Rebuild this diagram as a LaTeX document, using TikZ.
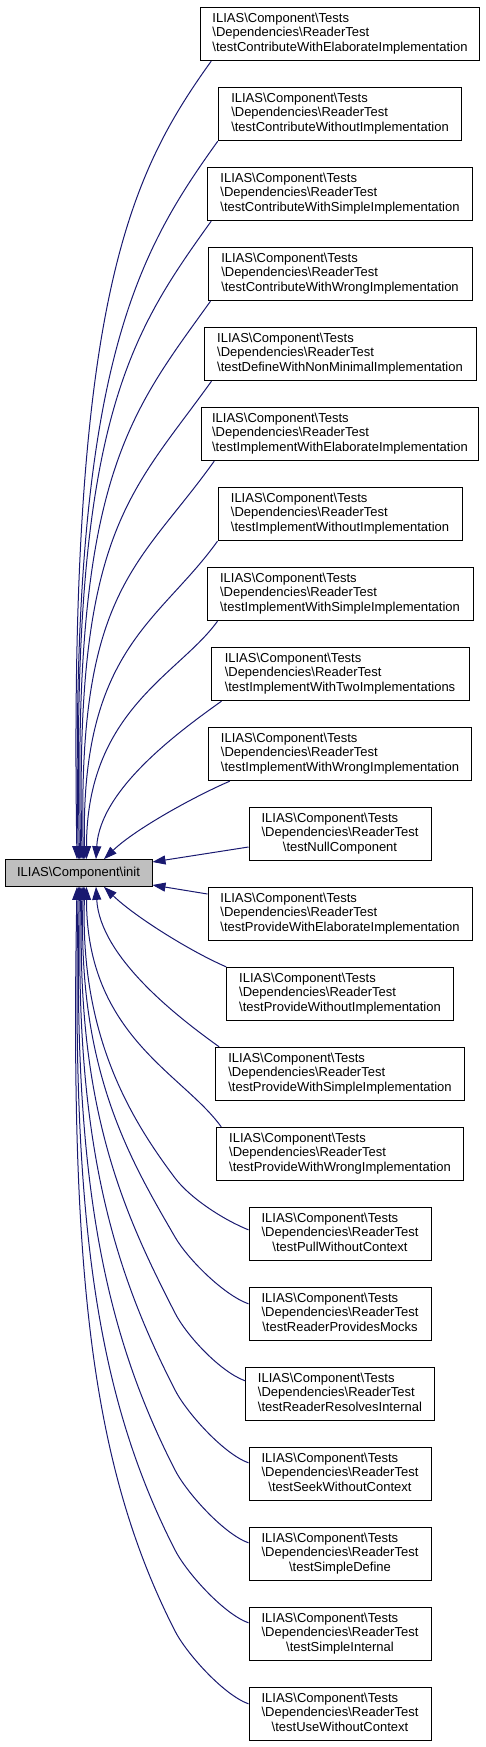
\documentclass[tikz,border=0pt]{standalone}
\usepackage{fontspec}
\setmainfont{Liberation Sans}
\usetikzlibrary{arrows.meta,calc}
\definecolor{edgec}{HTML}{191970}
\definecolor{rootfill}{HTML}{BFBFBF}
\newcommand{\tlbl}[1]{\begin{tabular}{@{}l@{}}ILIAS\textbackslash Component\textbackslash Tests\\ \textbackslash Dependencies\textbackslash ReaderTest\\ \multicolumn{1}{@{}c@{}}{\textbackslash #1}\end{tabular}}
\begin{document}
\begin{tikzpicture}[x=0.75pt,y=-0.75pt,
  box/.style={draw=black, line width=0.75pt, fill=white, minimum height=40pt,
    inner xsep=1pt, inner ysep=0pt, font=\fontsize{9.75}{11}\selectfont, minimum width=#1*0.75pt},
  rootbox/.style={draw=black, line width=0.75pt, fill=rootfill, minimum height=20pt,
    minimum width=110.25pt, inner sep=0pt, font=\fontsize{9.75}{11}\selectfont},
  conn/.style={draw=edgec, line width=0.75pt, -{Triangle[length=9.75pt,width=6.75pt]}}]
\useasboundingbox (0,0) rectangle (485,1747);
\node[rootbox] (root) at (78.5,873) {ILIAS\textbackslash Component\textbackslash init};
\node[box=278.6] (n0)  at (340,34)   {\tlbl{testContributeWithElaborateImplementation}};
\node[box=243.4] (n1)  at (340,114)  {\tlbl{testContributeWithoutImplementation}};
\node[box=264.6] (n2)  at (340,194)  {\tlbl{testContributeWithSimpleImplementation}};
\node[box=264]   (n3)  at (340,274)  {\tlbl{testContributeWithWrongImplementation}};
\node[box=272]   (n4)  at (340,354)  {\tlbl{testDefineWithNonMinimalImplementation}};
\node[box=276.6] (n5)  at (340,434)  {\tlbl{testImplementWithElaborateImplementation}};
\node[box=244]   (n6)  at (340,514)  {\tlbl{testImplementWithoutImplementation}};
\node[box=266]   (n7)  at (340,594)  {\tlbl{testImplementWithSimpleImplementation}};
\node[box=258]   (n8)  at (340,674)  {\tlbl{testImplementWithTwoImplementations}};
\node[box=263.4] (n9)  at (340,754)  {\tlbl{testImplementWithWrongImplementation}};
\node[box=182]   (n10) at (340,834)  {\tlbl{testNullComponent}};
\node[box=264]   (n11) at (340,914)  {\tlbl{testProvideWithElaborateImplementation}};
\node[box=226.6] (n12) at (340,994)  {\tlbl{testProvideWithoutImplementation}};
\node[box=248.6] (n13) at (340,1074) {\tlbl{testProvideWithSimpleImplementation}};
\node[box=246.6] (n14) at (340,1154) {\tlbl{testProvideWithWrongImplementation}};
\node[box=182]   (n15) at (340,1234) {\tlbl{testPullWithoutContext}};
\node[box=182]   (n16) at (340,1314) {\tlbl{testReaderProvidesMocks}};
\node[box=188.6] (n17) at (340,1394) {\tlbl{testReaderResolvesInternal}};
\node[box=182]   (n18) at (340,1474) {\tlbl{testSeekWithoutContext}};
\node[box=182]   (n19) at (340,1554) {\tlbl{testSimpleDefine}};
\node[box=182]   (n20) at (340,1634) {\tlbl{testSimpleInternal}};
\node[box=182]   (n21) at (340,1714) {\tlbl{testUseWithoutContext}};
% upper edges
\draw[conn] ($(n0.south west)+(11,0)$) .. controls +(-81,113) and +(-9,-560) .. ($(root.north)+(-1.5,0)$);
\draw[conn] (n1.south west) .. controls +(-81,113) and +(-9.3,-490) .. ($(root.north)+(-0.2,0)$);
\draw[conn] ($(n2.south west)+(4,0)$) .. controls +(-81,113) and +(-9.6,-437) .. ($(root.north)+(1.1,0)$);
\draw[conn] ($(n3.south west)+(3,0)$) .. controls +(-81,113) and +(-8.9,-382) .. ($(root.north)+(2.4,0)$);
\draw[conn] ($(n4.south west)+(8,0)$) .. controls +(-81,113) and +(-8.2,-328) .. ($(root.north)+(3.7,0)$);
\draw[conn] ($(n5.south west)+(13,0)$) .. controls +(-75,105) and +(-6.5,-270) .. ($(root.north)+(5,0)$);
\draw[conn] (n6.south west) .. controls +(-58,81) and +(-4.8,-210) .. ($(root.north)+(6.3,0)$);
\draw[conn] ($(n7.south west)+(11,0)$) .. controls +(-38,53) and +(0,-149) .. ($(root.north)+(8,0)$);
\draw[conn] ($(n8.south west)+(11,0)$) .. controls +(-42,30) and +(4,-70) .. ($(root.north)+(17.5,0)$);
\draw[conn] ($(n9.south west)+(22,0)$) .. controls +(-35,15) and +(31,-30) .. ($(root.north)+(25.5,0)$);
% side edges
\draw[conn] ($(n10.west)+(0,13)$) -- ($(root.east)+(0,-11)$);
\draw[conn] ($(n11.west)+(0,-20)$) -- ($(root.east)+(0,12)$);
% lower edges
\draw[conn] (n12.north west) .. controls +(-35,-15) and +(31,30) .. ($(root.south)+(25.5,0)$);
\draw[conn] ($(n13.north west)+(4,0)$) .. controls +(-42,-30) and +(4,70) .. ($(root.south)+(17.5,0)$);
\draw[conn] ($(n14.north west)+(5,0)$) .. controls +(-38,-53) and +(0,149) .. ($(root.south)+(8,0)$);
\draw[conn] ($(n15.north west)+(0,23)$) .. controls +(-25,-10) and +(15,20) .. (175,1178)
  .. controls +(-43.8,-58.4) and +(-4.8,150) .. ($(root.south)+(6.3,0)$);
\draw[conn] ($(n16.north west)+(0,17)$) .. controls +(-25,-9) and +(12.5,21.7) .. (175,1237)
  .. controls +(-43.9,-76) and +(-6.5,185) .. ($(root.south)+(5,0)$);
\draw[conn] ($(n17.north west)+(0,14)$) .. controls +(-25,-9) and +(11.4,22.3) .. (175,1313)
  .. controls +(-48.5,-95.1) and +(-7.2,225) .. ($(root.south)+(3.7,0)$);
\draw[conn] ($(n18.north west)+(0,16)$) .. controls +(-25,-9) and +(11.4,22.3) .. (175,1390)
  .. controls +(-57.2,-112.3) and +(-7.4,265) .. ($(root.south)+(2.4,0)$);
\draw[conn] ($(n19.north west)+(0,16)$) .. controls +(-25,-9) and +(11.4,22.3) .. (175,1470)
  .. controls +(-66.3,-130.1) and +(-7.6,305) .. ($(root.south)+(1.1,0)$);
\draw[conn] ($(n20.north west)+(0,16)$) .. controls +(-25,-9) and +(11.4,22.3) .. (175,1550)
  .. controls +(-75.4,-147.9) and +(-7.3,345) .. ($(root.south)+(-0.2,0)$);
\draw[conn] ($(n21.north west)+(0,17)$) .. controls +(-25,-9) and +(11.4,22.3) .. (175,1631)
  .. controls +(-84.5,-165.7) and +(-7,385) .. ($(root.south)+(-1.5,0)$);
\end{tikzpicture}
\end{document}
